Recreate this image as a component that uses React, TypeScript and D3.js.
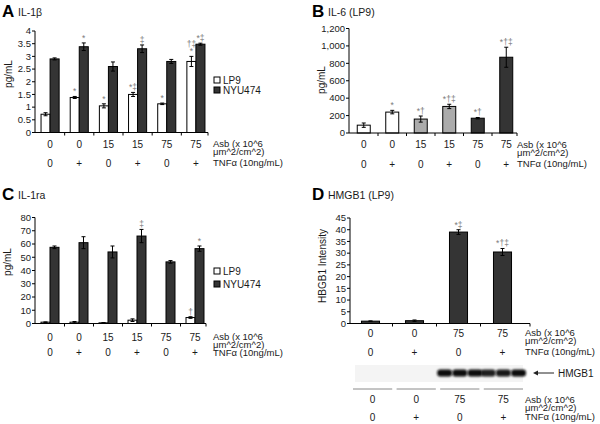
import React from 'react';
import * as d3 from 'd3';

// ---------- data ----------
const groups = ['g1', 'g2', 'g3', 'g4', 'g5', 'g6'];
const asbLabels = ['0', '0', '15', '15', '75', '75'];
const tnfLabels = ['0', '+', '0', '+', '0', '+'];
const seriesNames = ['LP9', 'NYU474'];

const il1bLP9 = [0.72, 1.38, 1.05, 1.5, 1.13, 2.8];
const il1bLP9Err = [0.06, 0.04, 0.08, 0.08, 0.03, 0.2];
const il1bNYU = [2.9, 3.38, 2.6, 3.3, 2.8, 3.48];
const il1bNYUErr = [0.04, 0.15, 0.18, 0.15, 0.08, 0.04];
const il1bLP9Sig = [[], ['*'], ['*'], ['*‡'], ['*'], ['†‡', '*']];
const il1bNYUSig = [[], ['*'], [], ['‡'], [], ['*‡']];
const il1bTicks = [0, 0.5, 1, 1.5, 2, 2.5, 3, 3.5, 4];

const il6Values = [90, 240, 160, 305, 170, 870];
const il6Err = [25, 20, 35, 25, 8, 115];
const il6Sig = [[], ['*'], ['*†'], ['*†‡'], ['*†'], ['*†‡']];
const il6Shade = ['white', 'white', 'light', 'light', 'dark', 'dark'];
const il6Ticks = [0, 200, 400, 600, 800, 1000, 1200];

const il1raLP9 = [1, 1, 0.5, 2.5, 0, 4.5];
const il1raLP9Err = [0.2, 0.5, 0.2, 1, 0, 0.6];
const il1raNYU = [57.5, 61, 54, 66, 46.5, 56.5];
const il1raNYUErr = [1, 4.5, 4.5, 5, 1, 2];
const il1raLP9Sig = [[], [], [], [], [], ['†']];
const il1raNYUSig = [[], [], [], ['‡'], [], ['*']];
const il1raTicks = [0, 10, 20, 30, 40, 50, 60, 70, 80];

const hmgbGroups = ['h1', 'h2', 'h3', 'h4'];
const hmgbAsb = ['0', '0', '75', '75'];
const hmgbTnf = ['0', '+', '0', '+'];
const hmgbValues = [1, 1.2, 39, 30.5];
const hmgbErr = [0.1, 0.3, 1, 1.5];
const hmgbSig = [[], [], ['*‡'], ['*†‡']];
const hmgbTicks = [0, 5, 10, 15, 20, 25, 30, 35, 40, 45];
const blotBands = [[0, 0, 0], [0, 0, 0], [1, 1, 1], [0.92, 0.95, 1]];

// ---------- styles ----------
const FONT = '"Liberation Sans", Arial, Helvetica, sans-serif';
const TXT = '#1a1a1a';
const SIG = '#7a7a7a';
const FILL: Record<string, string> = { white: '#ffffff', light: '#ababab', dark: '#343434' };
const ROWFS = 9.5;

function Axes({ L, y, outer, ticks, fmt, asb, tnf }: any) {
  const axX = L.axisX0;
  const y0 = y(0);
  const step = outer.step();
  const bounds = outer.domain().map((g: string) => outer(g) - (step - outer.bandwidth()) / 2);
  return (
    <g>
      <line x1={axX} x2={axX} y1={y0} y2={y(L.yMax)} stroke="#000" strokeWidth={1} />
      <line x1={axX} x2={L.axisEnd} y1={y0} y2={y0} stroke="#000" strokeWidth={1} />
      {ticks.map((t: number) => (
        <g key={t}>
          <line x1={axX - 3} x2={axX} y1={y(t)} y2={y(t)} stroke="#000" />
          <text x={axX - 4} y={y(t)} dy="0.35em" textAnchor="end" fontSize={9.5} fill={TXT}>
            {fmt(t)}
          </text>
        </g>
      ))}
      {bounds.slice(1).map((b: number, i: number) => (
        <line key={i} x1={b} x2={b} y1={y0} y2={y0 + 3} stroke="#000" />
      ))}
      <line x1={L.axisEnd} x2={L.axisEnd} y1={y0} y2={y0 + 3} stroke="#000" />
      {outer.domain().map((g: string, i: number) => (
        <g key={g}>
          <text x={outer(g) + outer.bandwidth() / 2} y={L.rows[0]} dy="0.35em" textAnchor="middle" fontSize={10} fill={TXT}>
            {asb[i]}
          </text>
          <text x={outer(g) + outer.bandwidth() / 2} y={L.rows[2]} dy="0.35em" textAnchor="middle" fontSize={10} fill={TXT}>
            {tnf[i]}
          </text>
        </g>
      ))}
      <text x={L.asbX} y={L.rows[0]} dy="0.35em" fontSize={ROWFS} fill={TXT}>Asb (x 10^6</text>
      <text x={L.asbX} y={L.rows[1]} dy="0.35em" fontSize={ROWFS} fill={TXT}>μm^2/cm^2)</text>
      <text x={L.asbX} y={L.rows[2]} dy="0.35em" fontSize={ROWFS} fill={TXT}>TNFα (10ng/mL)</text>
      <text
        transform={`translate(${L.ylab[0]},${L.ylab[1]}) rotate(-90)`}
        textAnchor="middle"
        dy="0.35em"
        fontSize={10}
        fill={TXT}
      >
        {L.ylabText}
      </text>
    </g>
  );
}

function Bar({ x, w, y, v, e, fill, sig }: any) {
  const top = y(v);
  const y0 = y(0);
  const cx = x + w / 2;
  const eTop = y(v + e);
  const eBot = y(Math.max(0, v - e));
  return (
    <g>
      <rect x={x} y={top} width={w} height={Math.max(0, y0 - top)} fill={fill} stroke="#000" strokeWidth={1} />
      {e > 0 && (
        <g stroke="#000" strokeWidth={1}>
          <line x1={cx} x2={cx} y1={eTop} y2={eBot} />
          <line x1={cx - 2} x2={cx + 2} y1={eTop} y2={eTop} />
          <line x1={cx - 2} x2={cx + 2} y1={eBot} y2={eBot} />
        </g>
      )}
      {sig.map((s: string, i: number) => (
        <text
          key={i}
          x={cx}
          y={eTop - 2 - (sig.length - 1 - i) * 7}
          textAnchor="middle"
          fontSize={8.5}
          fill={SIG}
        >
          {s}
        </text>
      ))}
    </g>
  );
}

function GroupedPanel({ L, ticks, a, aErr, aSig, b, bErr, bSig, legend }: any) {
  const y = d3.scaleLinear().domain([0, L.yMax]).range(L.yRange);
  const outer = d3.scaleBand<string>().domain(groups).range(L.band).paddingInner(L.pi).paddingOuter(L.po);
  const inner = d3.scaleBand<string>().domain(seriesNames).range([0, outer.bandwidth()]);
  const fmt = d3.format('');
  return (
    <g>
      {groups.map((g, i) => (
        <g key={g}>
          <Bar x={outer(g)! + inner('LP9')!} w={inner.bandwidth()} y={y} v={a[i]} e={aErr[i]} fill={FILL.white} sig={aSig[i]} />
          <Bar x={outer(g)! + inner('NYU474')!} w={inner.bandwidth()} y={y} v={b[i]} e={bErr[i]} fill={FILL.dark} sig={bSig[i]} />
        </g>
      ))}
      <Axes L={L} y={y} outer={outer} ticks={ticks} fmt={fmt} asb={asbLabels} tnf={tnfLabels} />
      {seriesNames.map((s, i) => (
        <g key={s}>
          <rect x={legend[0]} y={legend[1] + i * legend[2] - 3} width={6} height={6} fill={i === 0 ? FILL.white : FILL.dark} stroke="#000" />
          <text x={legend[0] + 9} y={legend[1] + i * legend[2]} dy="0.35em" fontSize={10} fill={TXT}>{s}</text>
        </g>
      ))}
    </g>
  );
}

const layoutA = {
  yRange: [132.5, 31], yMax: 4, band: [35.5, 210.5], pi: 0.38, po: 0.19, axisX0: 35, axisEnd: 208,
  rows: [144, 152, 163], asbX: 213, ylab: [8, 74], ylabText: 'pg/mL',
};
const layoutC = {
  yRange: [323.5, 217.5], yMax: 80, band: [35.5, 209.5], pi: 0.38, po: 0.19, axisX0: 35, axisEnd: 206,
  rows: [337, 345, 352.5], asbX: 213, ylab: [7, 262], ylabText: 'pg/mL',
};
const layoutB = {
  yRange: [133, 28.5], yMax: 1200, band: [349.5, 520.5], pi: 0.544, po: 0.272, axisX0: 349, axisEnd: 517,
  rows: [144.5, 153, 164], asbX: 517, ylab: [321, 80], ylabText: 'pg/mL',
};
const layoutD = {
  yRange: [323.5, 218], yMax: 45, band: [348.5, 524.5], pi: 0.59, po: 0.295, axisX0: 350, axisEnd: 530,
  rows: [333, 341, 352], asbX: 525, ylab: [322, 266], ylabText: 'HBGB1 Intensity',
};

function PanelB() {
  const L = layoutB;
  const y = d3.scaleLinear().domain([0, L.yMax]).range(L.yRange as [number, number]);
  const outer = d3.scaleBand<string>().domain(groups).range(L.band as [number, number]).paddingInner(L.pi).paddingOuter(L.po);
  return (
    <g>
      {groups.map((g, i) => (
        <Bar key={g} x={outer(g)} w={outer.bandwidth()} y={y} v={il6Values[i]} e={il6Err[i]} fill={FILL[il6Shade[i]]} sig={il6Sig[i]} />
      ))}
      <Axes L={L} y={y} outer={outer} ticks={il6Ticks} fmt={d3.format(',')} asb={asbLabels} tnf={tnfLabels} />
    </g>
  );
}

function PanelD() {
  const L = layoutD;
  const y = d3.scaleLinear().domain([0, L.yMax]).range(L.yRange as [number, number]);
  const outer = d3.scaleBand<string>().domain(hmgbGroups).range(L.band as [number, number]).paddingInner(L.pi).paddingOuter(L.po);
  const lanes = d3.scaleBand<string>().domain(hmgbGroups).range([353, 523]).paddingInner(0.1).paddingOuter(0);
  const rep = d3.scaleBand<number>().domain([0, 1, 2]).range([-3, lanes.bandwidth() + 3]).paddingInner(0.02);
  const blotY = 373;
  return (
    <g>
      {hmgbGroups.map((g, i) => (
        <Bar key={g} x={outer(g)} w={outer.bandwidth()} y={y} v={hmgbValues[i]} e={hmgbErr[i]} fill={FILL.dark} sig={hmgbSig[i]} />
      ))}
      <Axes L={L} y={y} outer={outer} ticks={hmgbTicks} fmt={d3.format('')} asb={hmgbAsb} tnf={hmgbTnf} />
      <defs>
        <filter id="blur" x="-20%" y="-50%" width="140%" height="200%">
          <feGaussianBlur stdDeviation="0.8" />
        </filter>
      </defs>
      <rect x={355} y={365} width={168} height={17} fill="#f4f4f4" />
      {hmgbGroups.map((g, i) =>
        blotBands[i].map((v, j) =>
          v > 0 ? (
            <rect
              key={g + j}
              x={lanes(g)! + rep(j)!}
              y={blotY - 3.5}
              width={rep.bandwidth()}
              height={7}
              rx={3}
              fill="#0d0d0d"
              opacity={v}
              filter="url(#blur)"
            />
          ) : null
        )
      )}
      <line x1={554} x2={537} y1={blotY} y2={blotY} stroke="#222" strokeWidth={1} />
      <path d={`M533,${blotY} L538,${blotY - 2.5} L538,${blotY + 2.5} Z`} fill="#222" />
      <text x={558} y={blotY} dy="0.35em" fontSize={10} fill={TXT}>HMGB1</text>
      {hmgbGroups.map((g, i) => (
        <g key={g}>
          <line x1={lanes(g)} x2={lanes(g)! + lanes.bandwidth()} y1={389} y2={389} stroke="#8a8a8a" strokeWidth={1} />
          <text x={lanes(g)! + lanes.bandwidth() / 2} y={399.5} dy="0.35em" textAnchor="middle" fontSize={10} fill={TXT}>{hmgbAsb[i]}</text>
          <text x={lanes(g)! + lanes.bandwidth() / 2} y={417} dy="0.35em" textAnchor="middle" fontSize={10} fill={TXT}>{hmgbTnf[i]}</text>
        </g>
      ))}
      <text x={525} y={399.5} dy="0.35em" fontSize={ROWFS} fill={TXT}>Asb (x 10^6</text>
      <text x={525} y={407.5} dy="0.35em" fontSize={ROWFS} fill={TXT}>μm^2/cm^2)</text>
      <text x={525} y={417} dy="0.35em" fontSize={ROWFS} fill={TXT}>TNFα (10ng/mL)</text>
    </g>
  );
}

function Title({ x, y, letter, text }: any) {
  return (
    <g>
      <text x={x} y={y} fontSize={17} fontWeight="bold" fill="#000">{letter}</text>
      <text x={x + 16} y={y - 1} fontSize={10.5} fill={TXT}>{text}</text>
    </g>
  );
}

export default function App() {
  return (
    <svg
      width={600}
      height={424}
      style={{ position: 'absolute', left: 0, top: 0, background: '#fff' }}
      fontFamily={FONT}
    >
      <rect width={600} height={424} fill="#fff" />
      <Title x={2} y={17} letter="A" text="IL-1β" />
      <Title x={312} y={17} letter="B" text="IL-6 (LP9)" />
      <Title x={2} y={200} letter="C" text="IL-1ra" />
      <Title x={312} y={200} letter="D" text="HMGB1 (LP9)" />
      <GroupedPanel
        L={layoutA}
        ticks={il1bTicks}
        a={il1bLP9}
        aErr={il1bLP9Err}
        aSig={il1bLP9Sig}
        b={il1bNYU}
        bErr={il1bNYUErr}
        bSig={il1bNYUSig}
        legend={[214, 80, 10]}
      />
      <GroupedPanel
        L={layoutC}
        ticks={il1raTicks}
        a={il1raLP9}
        aErr={il1raLP9Err}
        aSig={il1raLP9Sig}
        b={il1raNYU}
        bErr={il1raNYUErr}
        bSig={il1raNYUSig}
        legend={[214, 271, 13]}
      />
      <PanelB />
      <PanelD />
    </svg>
  );
}
